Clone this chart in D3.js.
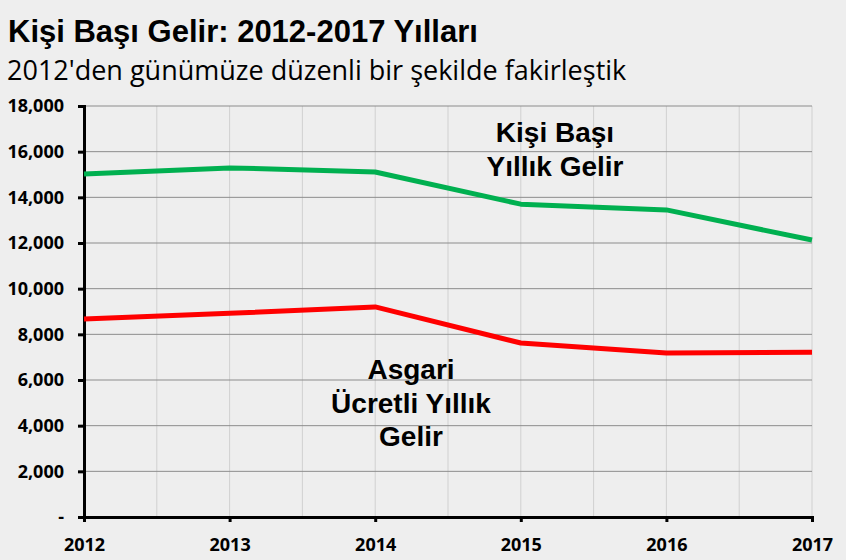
<!DOCTYPE html>
<html lang="tr">
<head>
    <meta charset="UTF-8">
    <title>Kişi Başı Gelir</title>
    <script src="https://cdnjs.cloudflare.com/ajax/libs/d3/7.8.5/d3.min.js"></script>
    <style>
        html, body { margin: 0; padding: 0; background: #eeeeee; }
        svg { display: block; }
    </style>
</head>
<body>
    <div id="chart"></div>
    <script>
        // veriler
        const years = [2012, 2013, 2014, 2015, 2016, 2017];
        const kisiBasi = [15020, 15290, 15110, 13700, 13450, 12130];
        const asgari = [8670, 8920, 9200, 7620, 7180, 7210];
        const yTicks = [0, 2000, 4000, 6000, 8000, 10000, 12000, 14000, 16000, 18000];

        const W = 846, H = 560;
        const m = { left: 84, right: 34, top: 106, bottom: 43 };

        const svg = d3.select('#chart')
            .append('svg')
            .attr('width', W)
            .attr('height', H);

        svg.append('rect').attr('width', W).attr('height', H).attr('fill', '#eeeeee');

        const x = d3.scaleLinear().domain([2012, 2017]).range([m.left, W - m.right]);
        const y = d3.scaleLinear().domain([0, 18000]).range([H - m.bottom, m.top]);

        // dikey ızgara (yarım yıl aralıklarla)
        const halfYears = d3.range(2012.5, 2017.01, 0.5);
        svg.append('g')
            .selectAll('line')
            .data(halfYears)
            .enter()
            .append('line')
            .attr('x1', d => x(d)).attr('x2', d => x(d))
            .attr('y1', y(18000)).attr('y2', y(0))
            .attr('stroke', '#d0d0d0')
            .attr('stroke-width', 1);

        // yatay ızgara
        svg.append('g')
            .selectAll('line')
            .data(yTicks.filter(d => d > 0))
            .enter()
            .append('line')
            .attr('x1', x(2012)).attr('x2', x(2017))
            .attr('y1', d => y(d)).attr('y2', d => y(d))
            .attr('stroke', '#8c8c8c')
            .attr('stroke-width', 1);

        // y ekseni
        const yAxis = d3.axisLeft(y)
            .tickValues(yTicks)
            .tickSize(6)
            .tickPadding(14)
            .tickFormat(d => d === 0 ? '-' : d3.format(',')(d));
        const gy = svg.append('g')
            .attr('transform', `translate(${x(2012)},0)`)
            .call(yAxis);
        gy.select('.domain').attr('stroke', '#000').attr('stroke-width', 3);
        gy.selectAll('.tick line').attr('stroke', '#000').attr('stroke-width', 3);
        gy.selectAll('.tick text')
            .attr('fill', '#000')
            .attr('font-family', '"Open Sans", sans-serif')
            .attr('font-weight', 'bold')
            .attr('font-size', 18);

        // x ekseni
        const xAxis = d3.axisBottom(x)
            .tickValues(years)
            .tickSize(5)
            .tickPadding(16)
            .tickFormat(d3.format('d'));
        const gx = svg.append('g')
            .attr('transform', `translate(0,${y(0)})`)
            .call(xAxis);
        gx.select('.domain').attr('stroke', '#000').attr('stroke-width', 3);
        gx.selectAll('.tick line').attr('stroke', '#000').attr('stroke-width', 3);
        gx.selectAll('.tick text')
            .attr('fill', '#000')
            .attr('font-family', '"Open Sans", sans-serif')
            .attr('font-weight', 'bold')
            .attr('font-size', 18);

        // çizgiler
        const line = d3.line()
            .x((d, i) => x(years[i]))
            .y(d => y(d));

        svg.append('path')
            .datum(kisiBasi)
            .attr('d', line)
            .attr('fill', 'none')
            .attr('stroke', '#00b050')
            .attr('stroke-width', 5)
            .attr('stroke-linejoin', 'round');

        svg.append('path')
            .datum(asgari)
            .attr('d', line)
            .attr('fill', 'none')
            .attr('stroke', '#ff0000')
            .attr('stroke-width', 5)
            .attr('stroke-linejoin', 'round');

        // başlıklar
        svg.append('text')
            .attr('x', 8).attr('y', 42)
            .text('Kişi Başı Gelir: 2012-2017 Yılları')
            .style('font-family', '"Liberation Sans", Arial, sans-serif')
            .style('font-weight', 'bold')
            .style('font-size', '31px')
            .attr('fill', '#000');

        svg.append('text')
            .attr('x', 7).attr('y', 80)
            .text("2012'den günümüze düzenli bir şekilde fakirleştik")
            .style('font-family', '"Open Sans", sans-serif')
            .style('font-size', '27px')
            .attr('fill', '#000');

        // etiketler
        const notlar = [
            { x: 555, y: 142, t: 'Kişi Başı' },
            { x: 555, y: 176, t: 'Yıllık Gelir' },
            { x: 411, y: 379, t: 'Asgari' },
            { x: 411, y: 413, t: 'Ücretli Yıllık' },
            { x: 411, y: 446, t: 'Gelir' }
        ];
        svg.append('g')
            .selectAll('text')
            .data(notlar)
            .enter()
            .append('text')
            .attr('x', d => d.x)
            .attr('y', d => d.y)
            .attr('text-anchor', 'middle')
            .text(d => d.t)
            .style('font-family', '"Liberation Sans", Arial, sans-serif')
            .style('font-weight', 'bold')
            .style('font-size', '28px')
            .attr('fill', '#000');
    </script>
</body>
</html>
